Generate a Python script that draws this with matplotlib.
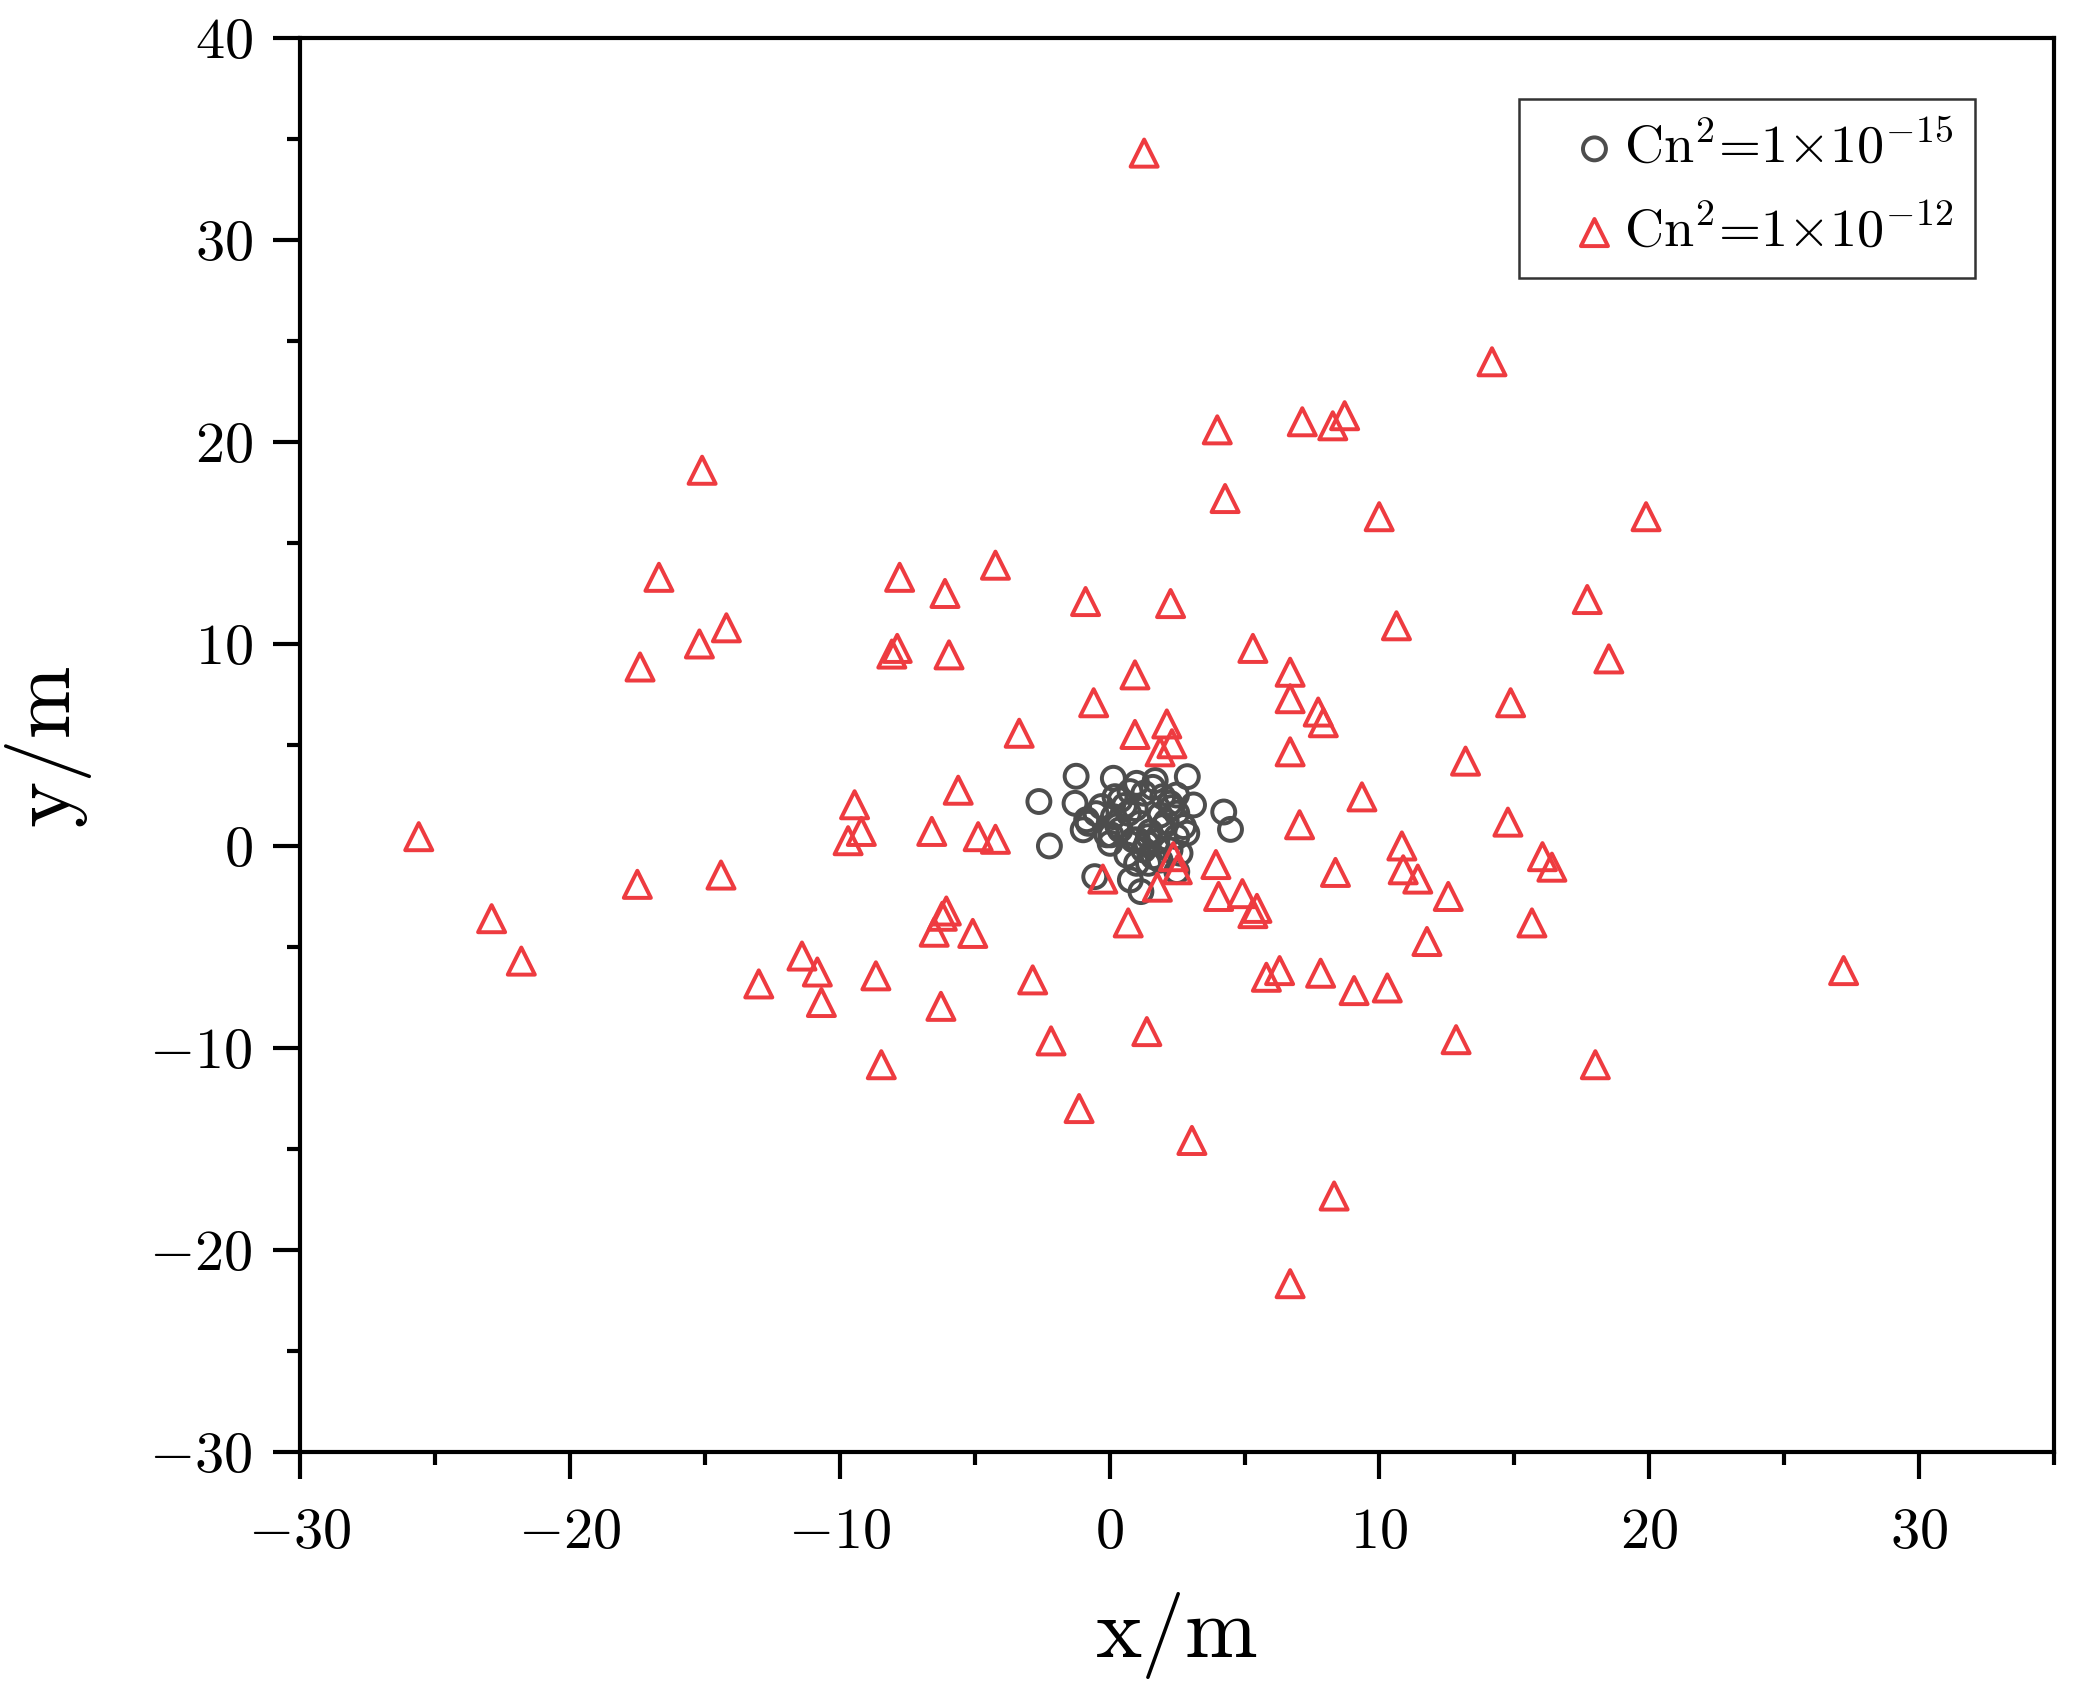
import matplotlib
matplotlib.use("Agg")
import matplotlib.pyplot as plt
from matplotlib.ticker import MultipleLocator

plt.rcParams['font.family'] = 'serif'
plt.rcParams['font.serif'] = ['cmr10']
plt.rcParams['mathtext.fontset'] = 'cm'
plt.rcParams['axes.formatter.use_mathtext'] = True

# Cn^2 = 1e-15 (grey circles)
x_weak = [-1.24, -2.62, -1.28, -2.23, 0.14, 1.0, 1.69, 2.88, 0.2, 0.76,
          1.97, 2.48, 3.11, 0.7, 1.87, 2.49, -0.79, -0.98, -0.1, 0.88,
          1.44, 2.49, 4.23, 4.48, 0.64, 1.26, 1.62, 2.49, -0.55, 0.77,
          1.16, -0.3, 0.39, 1.27, 2.24, 2.74, 1.98, 1.13, 0.14, 0.02,
          0.39, 1.38, 1.87, 1.44, 2.61, 2.86, 2.24, 1.0, -0.85, 0.05,
          1.03, 0.55, 1.6, 2.1, 0.95, -0.5, 1.75, 2.3, 0.3, 1.5]
y_weak = [3.45, 2.2, 2.11, 0.0, 3.35, 3.1, 3.24, 3.43, 2.44, 2.69,
          2.44, 2.52, 2.03, 1.62, 1.53, 1.62, 1.12, 0.8, 0.55, 0.3,
          0.46, 0.46, 1.68, 0.82, -0.45, -0.2, -0.53, -1.27, -1.52, -1.68,
          -2.26, 1.95, 2.28, 2.61, 2.11, 0.96, 0.96, 1.12, 1.45, 0.13,
          0.8, 0.13, -0.7, -0.86, -0.36, 0.63, -0.2, -0.86, 1.3, 0.55,
          0.3, 2.0, 2.9, 1.2, 1.85, 1.6, 0.2, 1.9, 1.0, 0.7]

# Cn^2 = 1e-12 (red triangles)
x_strong = [1.28, 14.17, -15.1, 3.99, 7.14, 8.27, 8.71, 9.99, 19.88, 4.28,
            -16.7, -14.2, -15.2, -17.4, -7.78, -6.10, -4.23, -0.89, 2.26, -7.87,
            -8.07, -5.95, 10.63, 17.7, 18.5, 5.31, 6.69, 0.94, -0.59, 6.69,
            7.73, 7.92, 14.86, -3.35, 0.94, 2.12, 2.31, 1.87, 6.69, 13.19,
            -5.61, -9.45, -9.2, -9.69, -6.59, -4.87, -4.23, -25.6, 9.35, 7.04,
            10.83, 14.76, 16.04, 16.39, 10.88, 11.42, 8.37, 3.94, 2.36, 2.51,
            1.77, -0.25, -14.4, -17.5, -22.9, -21.8, 12.55, 4.04, 4.92, 5.31,
            5.46, 0.69, -6.05, -6.2, -6.5, -5.07, 15.65, 11.76, -11.4, -10.83,
            6.3, 5.81, 7.82, 9.06, 10.29, -2.85, -13.0, -8.66, -10.68, -6.25,
            27.2, -8.46, -2.17, 1.38, 12.84, 18.0, -1.13, 3.05, 8.32, 6.69]
y_strong = [34.3, 23.97, 18.6, 20.6, 21.0, 20.8, 21.3, 16.3, 16.3, 17.2,
            13.3, 10.8, 10.0, 8.86, 13.3, 12.5, 13.9, 12.1, 12.0, 9.78,
            9.5, 9.46, 10.9, 12.2, 9.26, 9.78, 8.6, 8.47, 7.09, 7.29,
            6.63, 6.1, 7.09, 5.58, 5.52, 6.04, 5.06, 4.66, 4.66, 4.2,
            2.76, 2.04, 0.72, 0.26, 0.72, 0.46, 0.33, 0.46, 2.43, 1.05,
            0.0, 1.18, -0.53, -1.05, -1.18, -1.64, -1.31, -0.92, -0.53, -1.18,
            -2.04, -1.64, -1.44, -1.9, -3.6, -5.7, -2.5, -2.5, -2.36, -3.35,
            -3.09, -3.81, -3.22, -3.48, -4.27, -4.33, -3.81, -4.73, -5.45, -6.24,
            -6.17, -6.5, -6.3, -7.16, -7.03, -6.63, -6.83, -6.43, -7.75, -7.94,
            -6.17, -10.83, -9.65, -9.19, -9.59, -10.83, -13.0, -14.58, -17.33, -21.67]

labels = [r'Cn$^2$=1$\times$10$^{-15}$', r'Cn$^2$=1$\times$10$^{-12}$']

fig = plt.figure(figsize=(6.94, 5.65), dpi=300)
ax = fig.add_axes([0.1441, 0.1434, 0.8425, 0.8342])

ax.scatter(x_weak, y_weak, s=5.5**2, marker='o', facecolors='none',
           edgecolors='#4d4d4d', linewidths=0.95, label=labels[0], zorder=3)
ax.scatter(x_strong, y_strong, s=6.5**2, marker='^', facecolors='none',
           edgecolors='#ee3b40', linewidths=0.95, label=labels[1], zorder=4)

ax.set_xlim(-30, 35)
ax.set_ylim(-30, 40)
ax.xaxis.set_major_locator(MultipleLocator(10))
ax.xaxis.set_minor_locator(MultipleLocator(5))
ax.yaxis.set_major_locator(MultipleLocator(10))
ax.yaxis.set_minor_locator(MultipleLocator(5))
ax.tick_params(which='major', direction='out', length=6.4, width=1.0,
               labelsize=14, pad=5)
ax.tick_params(which='minor', direction='out', length=3.2, width=1.0)
ax.tick_params(axis='x', which='major', pad=7)
for sp in ax.spines.values():
    sp.set_linewidth(1.0)

ax.set_xlabel(r'x/m', fontsize=21, labelpad=8)
ax.set_ylabel(r'y/m', fontsize=21, labelpad=14)

leg = ax.legend(loc='upper right', bbox_to_anchor=(0.955, 0.957),
                borderaxespad=0, fontsize=13, fancybox=False, frameon=True,
                edgecolor='black', borderpad=0.4, handlelength=2.0,
                handletextpad=-0.45, labelspacing=0.6, scatterpoints=1)
leg.get_frame().set_linewidth(0.6)

fig.savefig('out.png', dpi=300)
